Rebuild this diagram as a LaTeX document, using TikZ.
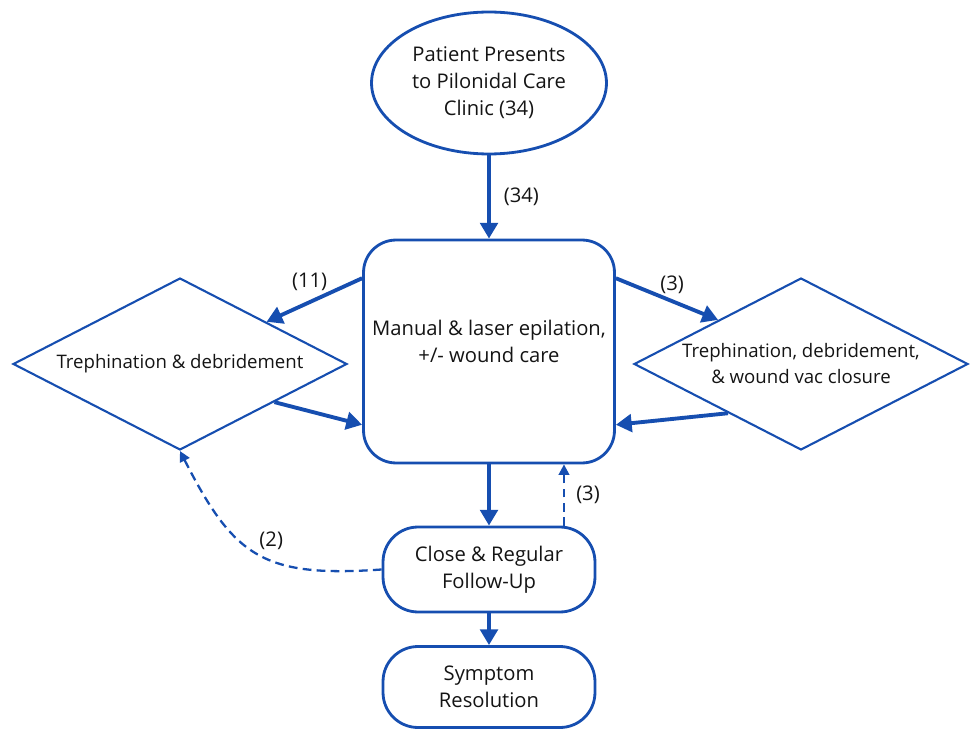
\documentclass[tikz,border=0pt]{standalone}
\usepackage{fontspec}
\setmainfont{Open Sans}
\usetikzlibrary{shapes.geometric,arrows.meta}
\definecolor{flowblue}{RGB}{22,78,176}
\definecolor{inkgray}{RGB}{20,20,20}
\begin{document}
\begin{tikzpicture}[x=0.02cm, y=-0.02cm, text=inkgray, font=\fontsize{11.5}{15.4}\selectfont]
	\tikzstyle{start} = [ellipse, draw=flowblue, line width=1.6pt, minimum width=4.7cm, minimum height=2.84cm, inner sep=0pt, align=center]
	\tikzstyle{process} = [rectangle, rounded corners=0.65cm, draw=flowblue, line width=1.6pt, minimum width=5.02cm, minimum height=4.46cm, align=center]
	\tikzstyle{decision} = [diamond, aspect=2, draw=flowblue, line width=1.2pt, minimum width=6.68cm, minimum height=3.44cm, inner sep=0pt, align=center, font=\fontsize{10.6}{14.8}\selectfont]
	\tikzstyle{outcome} = [rectangle, rounded corners=0.7cm, draw=flowblue, line width=1.6pt, minimum width=4.24cm, minimum height=1.7cm, align=center]
	\tikzstyle{flow} = [draw=flowblue, line width=2.2pt, -{Triangle[length=9pt,width=10pt]}]
	\tikzstyle{back} = [draw=flowblue, line width=1.3pt, dash pattern=on 5pt off 3pt, -{Triangle[length=6pt,width=6pt]}]
	\useasboundingbox (0,0) rectangle (970,729);
	\node[start](clinic) at (489,83) {Patient Presents\\to Pilonidal Care\\Clinic (34)};
	\node[process, text depth=0.4cm](care) at (489,351.5) {Manual \& laser epilation,\\+/- wound care};
	\node[decision](trep) at (180,364) {Trephination \& debridement};
	\node[decision](vac) at (801,364) {Trephination, debridement,\\\& wound vac closure};
	\node[outcome](follow) at (489,569.5) {Close \& Regular\\Follow-Up};
	\node[outcome, minimum height=1.62cm](resolve) at (489,687) {Symptom\\Resolution};
	\path (clinic) edge[flow] node[right, xshift=4pt] {(34)} (care);
	\path (care.150) edge[flow] node[above, pos=0.55, yshift=2pt] {(11)} (trep.26);
	\path (trep.-22) edge[flow] (care.210);
	\path (care.30) edge[flow] node[above, pos=0.55] {(3)} (vac.152);
	\path (vac.-146) edge[flow] (care.-30);
	\path (care) edge[flow] (follow);
	\path ([xshift=1.5cm]follow.north) edge[back] node[right, xshift=3pt] {(3)} ([xshift=1.5cm]care.south);
	\path (follow.west) edge[back, out=184, in=-63, looseness=1.3] node[pos=0.5, above right, inner sep=1pt] {(2)} (trep.south);
	\path (follow) edge[flow] (resolve);
\end{tikzpicture}
\end{document}
